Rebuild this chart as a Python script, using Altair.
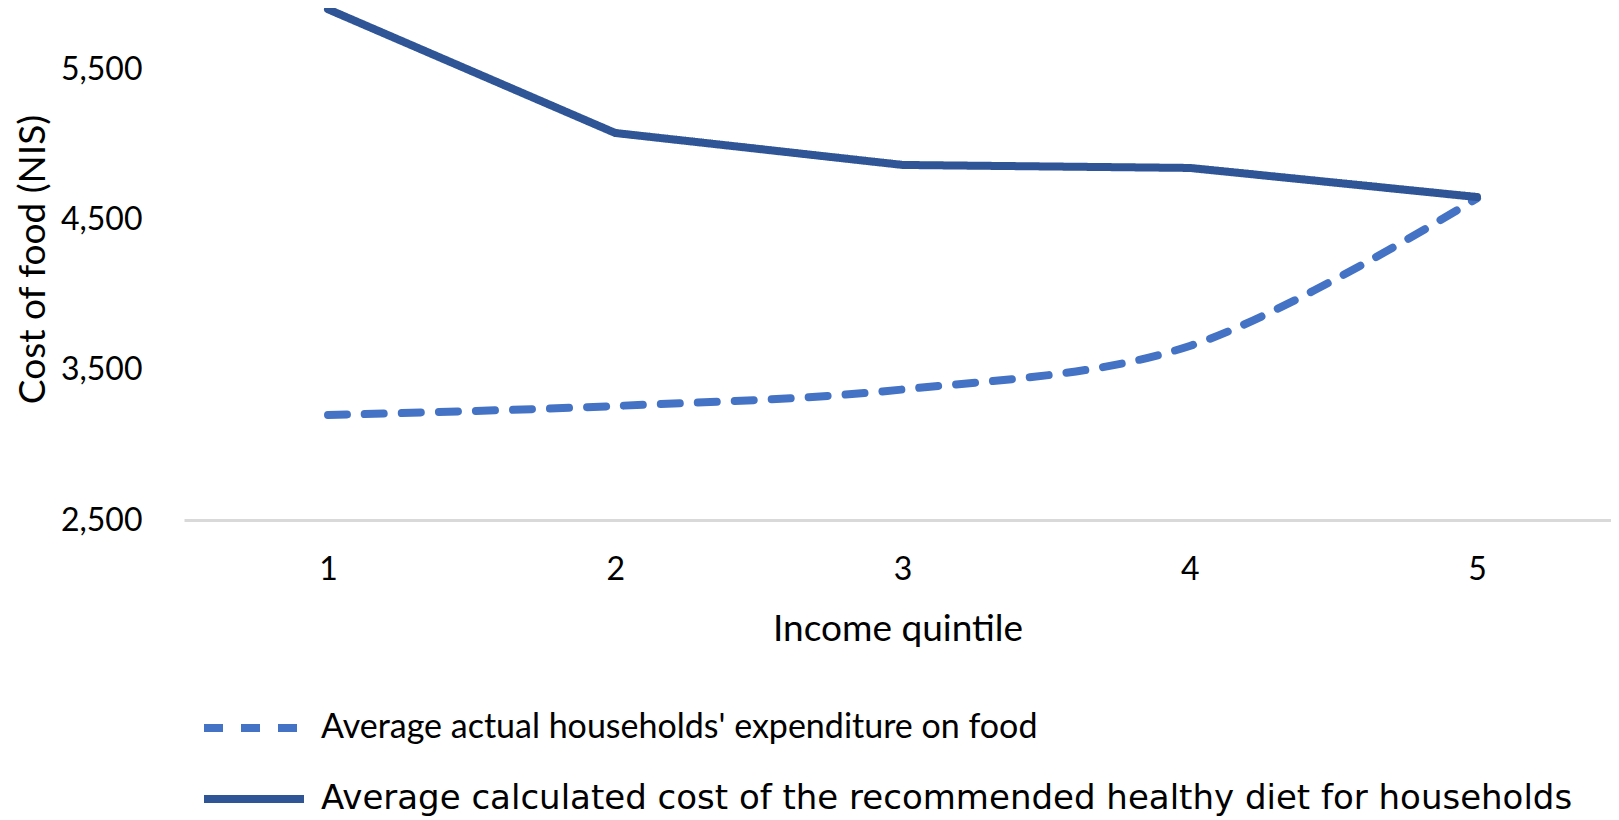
import altair as alt
import pandas as pd

quintiles = [1, 2, 3, 4, 5]
actual_expenditure = [3200, 3260, 3370, 3660, 4645]
healthy_diet_cost = [5905, 5080, 4867, 4847, 4653]
series_names = [
    "Average actual households' expenditure on food",
    "Average calculated cost of the recommended healthy diet for households",
]
series_colors = ["#4472C4", "#2F5597"]
series_dashes = [[19, 18], [1, 0]]
y_ticks = [2500, 3500, 4500, 5500]

rows = []
for q, a, h in zip(quintiles, actual_expenditure, healthy_diet_cost):
    rows.append({"q": q, "value": a, "series": series_names[0]})
    rows.append({"q": q, "value": h, "series": series_names[1]})
df = pd.DataFrame(rows)

FONT = "Lato"

x_enc = alt.X(
    "q:Q",
    scale=alt.Scale(domain=[0.4987, 5.4665], nice=False, zero=False),
    axis=alt.Axis(
        values=quintiles, format="d", title="Income quintile",
        grid=False, ticks=False, domainColor="#D9D9D9", domainWidth=3,
        labelFont=FONT, labelFontSize=32, labelColor="#000000", labelPadding=34,
        titleFont=FONT, titleFontSize=37, titleFontWeight="normal",
        titleColor="#000000", titlePadding=26,
    ),
)
y_enc = alt.Y(
    "value:Q",
    scale=alt.Scale(domain=[2500, 5913.3], nice=False, zero=False),
    axis=alt.Axis(
        values=y_ticks, format=",.0f", title="Cost of food (NIS)",
        grid=False, ticks=False, domain=False,
        labelFont=FONT, labelFontSize=32, labelColor="#000000", labelPadding=42,
        titleFont=FONT, titleFontSize=37, titleFontWeight="normal",
        titleColor="#000000", titleX=-132, titleY=251,
    ),
)
legend_opts = dict(
    title=None, orient="none", legendX=16, legendY=666, direction="vertical",
    symbolType="stroke", symbolSize=10000, symbolStrokeWidth=8,
    labelFont={"expr": "datum.index === 1 ? 'DejaVu Sans' : 'Lato'"},
    labelFontSize={"expr": "datum.index === 1 ? 34 : 34"},
    labelColor="#000000", labelOffset=13,
    labelLimit=2000, padding=0, rowPadding=-52,
)
color_enc = alt.Color(
    "series:N",
    scale=alt.Scale(domain=series_names, range=series_colors),
    legend=alt.Legend(**legend_opts),
)
dash_enc = alt.StrokeDash(
    "series:N",
    scale=alt.Scale(domain=series_names, range=series_dashes),
    legend=alt.Legend(**legend_opts),
)

base = alt.Chart(df).encode(x=x_enc, y=y_enc, color=color_enc, strokeDash=dash_enc)

dashed = base.transform_filter(alt.datum.series == series_names[0]).mark_line(
    interpolate="catmull-rom", strokeWidth=8, strokeCap="round"
)
solid = base.transform_filter(alt.datum.series == series_names[1]).mark_line(
    strokeWidth=8, strokeCap="round", strokeJoin="round"
)

chart = (
    alt.layer(dashed, solid)
    .properties(
        width=1427, height=512,
        background="#ffffff",
        autosize=alt.AutoSizeParams(type="none"),
        padding={"left": 176, "top": 0, "right": 0, "bottom": 300},
    )
    .configure_view(strokeWidth=0, stroke="transparent")
)

chart.save("out.html", embed_options={"renderer": "svg", "actions": False})
